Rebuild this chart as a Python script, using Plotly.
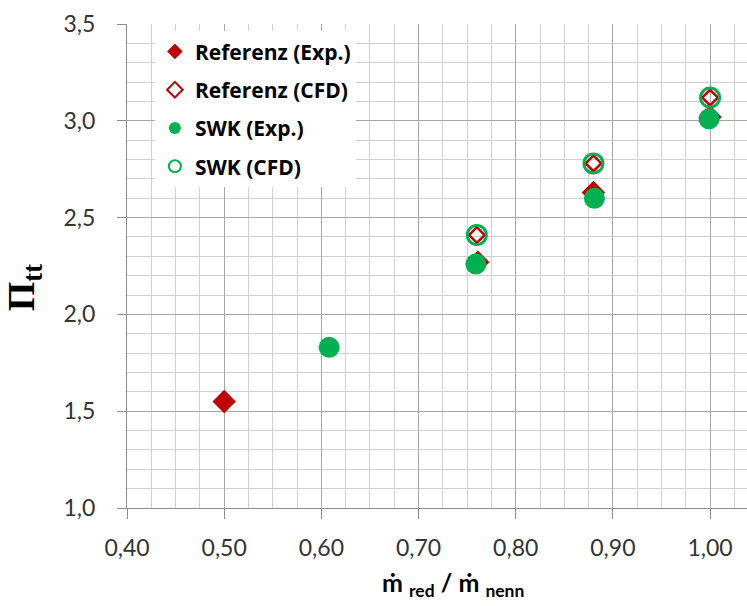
import plotly.graph_objects as go

# Mass flow ratio (m_red / m_nenn) and total pressure ratio Pi_tt
ref_exp_x = [0.50, 0.761, 0.880, 1.000]
ref_exp_y = [1.55, 2.27, 2.63, 3.02]

ref_cfd_x = [0.760, 0.880, 1.000]
ref_cfd_y = [2.41, 2.78, 3.12]

swk_exp_x = [0.608, 0.759, 0.881, 0.999]
swk_exp_y = [1.83, 2.26, 2.60, 3.01]

swk_cfd_x = [0.760, 0.880, 1.000]
swk_cfd_y = [2.41, 2.78, 3.12]

RED = "#C00000"
GREEN = "#00B050"
FONT = "Lato, 'Open Sans', sans-serif"
LEGEND_FONT = "'Open Sans', Lato, sans-serif"

fig = go.Figure()

fig.add_trace(go.Scatter(
    x=ref_exp_x, y=ref_exp_y, mode="markers", name="Referenz (Exp.)",
    legendgroup="a",
    marker=dict(symbol="diamond", size=18, color=RED, line=dict(width=0)),
))
fig.add_trace(go.Scatter(
    x=ref_cfd_x, y=ref_cfd_y, mode="markers", name="Referenz (CFD)",
    legendgroup="b",
    marker=dict(symbol="diamond-open", size=12, color=RED, line=dict(width=2.5, color=RED)),
))
fig.add_trace(go.Scatter(
    x=swk_exp_x, y=swk_exp_y, mode="markers", name="SWK (Exp.)",
    legendgroup="c",
    marker=dict(symbol="circle", size=21, color=GREEN, line=dict(width=0)),
))
fig.add_trace(go.Scatter(
    x=swk_cfd_x, y=swk_cfd_y, mode="markers", name="SWK (CFD)",
    legendgroup="d",
    marker=dict(symbol="circle-open", size=19, color=GREEN, line=dict(width=3, color=GREEN)),
))

fig.update_layout(
    width=747, height=606,
    margin=dict(l=127, r=0, t=24, b=98),
    paper_bgcolor="white", plot_bgcolor="white",
    separators=",.",
    showlegend=True,
    legend=dict(
        x=0.045, y=0.985, xanchor="left", yanchor="top",
        bgcolor="white", borderwidth=0,
        font=dict(family=LEGEND_FONT, size=21, color="black", weight="bold"),
        tracegroupgap=8,
        itemsizing="constant",
    ),
    font=dict(family=FONT),
)

fig.update_xaxes(
    range=[0.4, 1.038],
    tickmode="linear", tick0=0.4, dtick=0.1, tickformat=".2f",
    ticks="outside", ticklen=10, tickcolor="#8C8C8C", tickwidth=1,
    showgrid=True, gridcolor="#A6A6A6", gridwidth=1.2,
    minor=dict(dtick=0.025, showgrid=True, gridcolor="#D0D0D0", gridwidth=1.2, ticks=""),
    showline=True, linecolor="#8C8C8C", linewidth=1.2,
    tickfont=dict(family=FONT, size=23, color="#333333"),
    ticklabelstandoff=9,
    zeroline=False,
)
fig.update_yaxes(
    range=[1.0, 3.5],
    tickmode="linear", tick0=1.0, dtick=0.5, tickformat=".1f",
    ticks="outside", ticklen=9, tickcolor="#8C8C8C", tickwidth=1,
    showgrid=True, gridcolor="#A6A6A6", gridwidth=1.2,
    minor=dict(dtick=0.1, showgrid=True, gridcolor="#D0D0D0", gridwidth=1.2, ticks=""),
    showline=True, linecolor="#8C8C8C", linewidth=1.2,
    tickfont=dict(family=FONT, size=23, color="#333333"),
    ticklabelstandoff=17,
    zeroline=False,
)

# Axis titles
fig.add_annotation(
    text="ṁ <sub>red</sub> / ṁ <sub>nenn</sub>",
    xref="paper", yref="paper", x=0.525, y=-0.158,
    xanchor="center", yanchor="middle", showarrow=False,
    font=dict(family=FONT, size=25, color="black", weight="bold"),
)
fig.add_annotation(
    text="Π<sub>tt</sub>",
    xref="paper", yref="paper", x=-0.167, y=0.455,
    xanchor="center", yanchor="middle", showarrow=False, textangle=-90,
    font=dict(family="Liberation Serif, 'Times New Roman', serif", size=38, color="black", weight="bold"),
)

fig.write_html("out.html")
